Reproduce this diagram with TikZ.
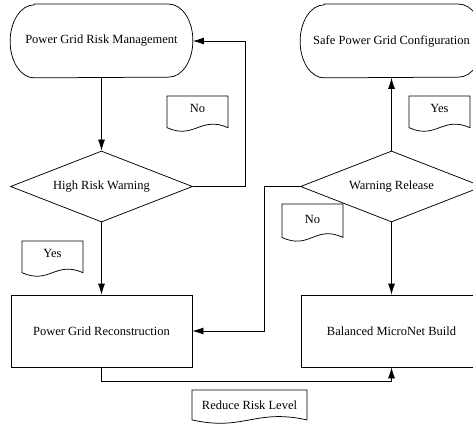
\documentclass[tikz,border=0pt]{standalone}
\usepackage{fontspec}
\setmainfont{Liberation Serif}
\usetikzlibrary{shapes.geometric,arrows.meta,calc}
\tikzset{
  base/.style={draw=black, line width=0.75pt, inner sep=0pt, font=\fontsize{12.5}{15}\selectfont},
  term/.style={base, draw=none, rectangle, minimum width=182pt, minimum height=73pt},
  decide/.style={base, diamond, aspect=2.56, minimum width=182pt, minimum height=71pt},
  procbox/.style={base, rectangle, minimum width=181pt, minimum height=72pt},
  docline/.style={draw=black, line width=0.75pt},
  doctext/.style={inner sep=0pt, font=\fontsize{12.5}{15}\selectfont},
  conn/.style={draw=black, line width=0.75pt, -{Latex[length=11pt,width=7pt]}},
}
% name, cx, top, w, h, text y, text
\newcommand{\docshape}[7]{%
  \draw[docline] ({#2-#4/2},#3) -- ({#2+#4/2},#3) -- ({#2+#4/2},{#3+0.88*#5})
    .. controls ({#2+0.05*#4},{#3+0.54*#5}) and ({#2-0.05*#4},{#3+1.22*#5}) ..
    ({#2-#4/2},{#3+0.88*#5}) -- cycle;
  \node[doctext] (#1) at (#2,#6) {#7};
}
% outline of a terminal node
\newcommand{\termline}[1]{%
  \draw[docline] ([xshift=24pt]#1.north west) -- ([xshift=-24pt]#1.north east)
    arc[start angle=-90, end angle=90, x radius=24, y radius=36.5]
    -- ([xshift=24pt]#1.south west)
    arc[start angle=90, end angle=270, x radius=24, y radius=36.5] -- cycle;
}
\begin{document}
\begin{tikzpicture}[x=1pt,y=-1pt]
\clip (0,0) rectangle (473,427);
\fill[white] (0,0) rectangle (473,427);

\node[term] (t1) at (101.5,41) {Power Grid Risk Management};
\node[decide] (d1) at (101.5,186.5) {High Risk Warning};
\node[procbox] (b1) at (101.5,331) {Power Grid Reconstruction};

\node[term] (t2) at (391.5,41) {Safe Power Grid Configuration};
\node[decide] (d2) at (391.5,186.5) {Warning Release};
\node[procbox] (b2) at (391.5,331) {Balanced MicroNet Build};

\termline{t1}
\termline{t2}

\coordinate (c1) at (245,186.5);
\coordinate (c2) at (245,41);
\coordinate (c3) at (264.5,186.5);
\coordinate (c4) at (264.5,331);
\coordinate (c5) at (101.5,381.5);
\coordinate (c6) at (391.5,381.5);

\draw[conn] (t1) -- (d1);
\draw[conn] (d1) -- (b1);
\draw[conn] (d1.east) -- (c1) -- (c2) -- (t1.east);
\draw[conn] (d2) -- (t2);
\draw[conn] (d2) -- (b2);
\draw[conn] (d2.west) -- (c3) -- (c4) -- (b1.east);
\draw[conn] (b1.south) -- (c5) -- (c6) -- (b2.south);

\docshape{yes1}{52.5}{241}{61}{36}{253}{Yes}
\docshape{no1}{197.5}{96}{61}{36}{108}{No}
\docshape{yes2}{439.5}{96}{61}{36}{108}{Yes}
\docshape{no2}{312.5}{204}{61}{38}{219}{No}
\docshape{reduce}{249.5}{390}{115}{34}{405}{Reduce Risk Level}
\end{tikzpicture}
\end{document}
